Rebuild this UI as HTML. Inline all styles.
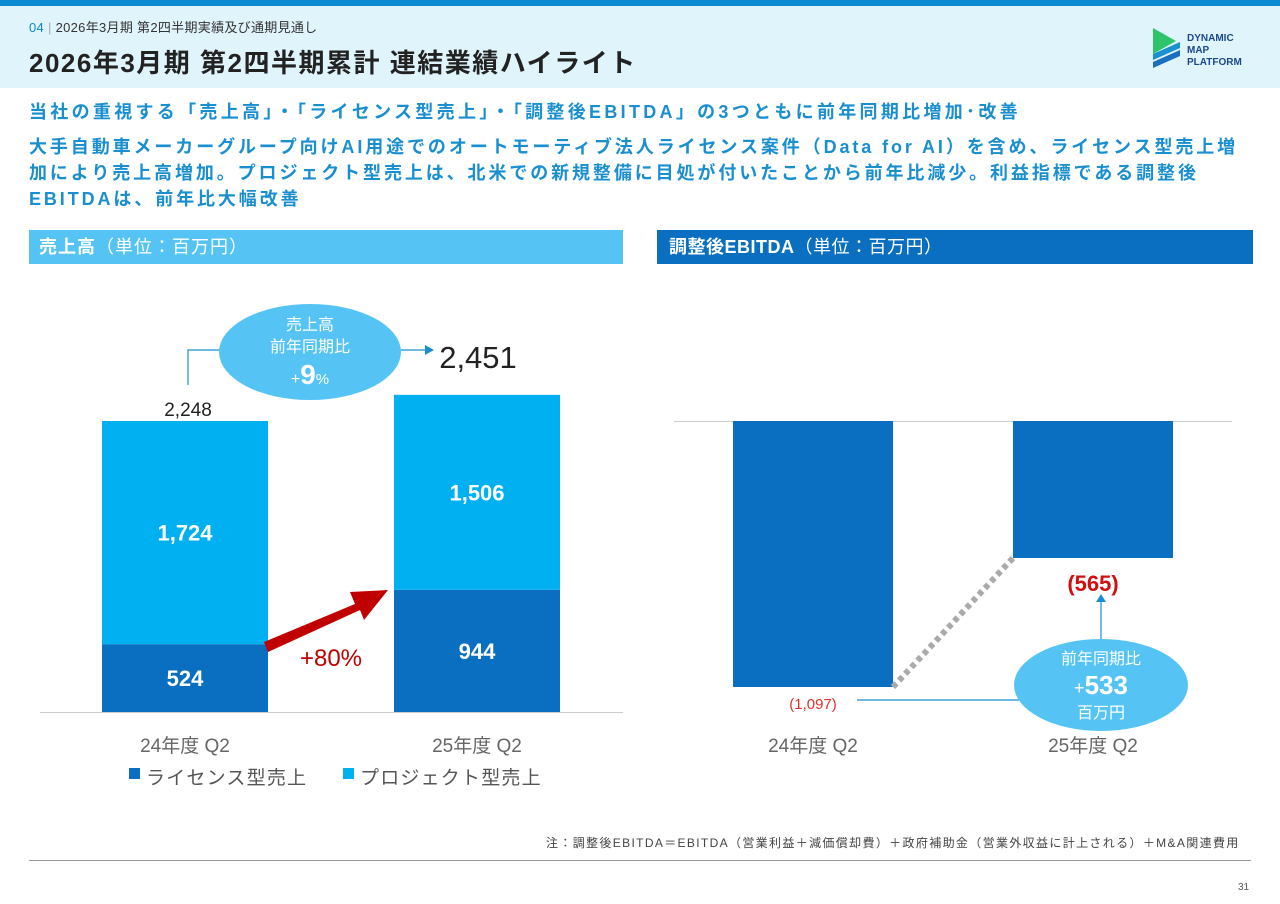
<!DOCTYPE html>
<html><head><meta charset="utf-8">
<style>
body{margin:0;width:1280px;height:904px;background:#fff;font-family:"Liberation Sans","Noto Sans CJK JP",sans-serif;position:relative;overflow:hidden}
.a{position:absolute;white-space:nowrap}
</style></head><body>
<div class="a" style="left:0;top:0;width:1280px;height:6px;background:#0a8ad0"></div>
<div class="a" style="left:0;top:6px;width:1280px;height:82px;background:#e0f4fc"></div>
<div class="a" style="left:29px;top:17px;font-size:13px;color:#333;letter-spacing:0.3px"><span style="color:#0a8ad0">04</span> <span style="color:#aaa">|</span> 2026年3月期 第2四半期実績及び通期見通し</div>
<div class="a" style="left:29px;top:43px;font-size:26px;font-weight:bold;color:#222;letter-spacing:1.5px">2026年3月期 第2四半期累計 連結業績ハイライト</div>
<svg class="a" style="left:1150px;top:28px" width="100" height="44"><polygon points="3,0 3,26 26,13" fill="#2fc46a"/><polygon points="3,26 30,14 30,20 3,32" fill="#1a90d0"/><polygon points="3,34 30,22 30,28 3,40" fill="#1a6fc0"/><text x="37" y="13" font-size="10" font-weight="bold" fill="#1a4a8a">DYNAMIC</text><text x="37" y="25" font-size="10" font-weight="bold" fill="#1a4a8a">MAP</text><text x="37" y="37" font-size="10" font-weight="bold" fill="#1a4a8a">PLATFORM</text></svg>
<div class="a" style="left:29px;top:98px;font-size:18px;font-weight:bold;color:#1a8fd0;letter-spacing:3.3px">当社の重視する「売上高」・「ライセンス型売上」・「調整後EBITDA」の3つともに前年同期比増加･改善</div>
<div class="a" style="left:29px;top:134px;font-size:18px;line-height:26px;font-weight:bold;color:#1a8fd0;letter-spacing:2.9px">大手自動車メーカーグループ向けAI用途でのオートモーティブ法人ライセンス案件（Data for AI）を含め、ライセンス型売上増<br>加により売上高増加。プロジェクト型売上は、北米での新規整備に目処が付いたことから前年比減少。利益指標である調整後<br>EBITDAは、前年比大幅改善</div>
<div class="a" style="left:29px;top:230px;width:594px;height:34px;background:#55c4f5;color:#fff;font-size:18px;line-height:34px;padding-left:10px;box-sizing:border-box;letter-spacing:1px"><b>売上高</b>（単位：百万円）</div>
<div class="a" style="left:657px;top:230px;width:596px;height:34px;background:#0a6fc0;color:#fff;font-size:18px;line-height:34px;padding-left:12px;box-sizing:border-box;letter-spacing:0.5px"><b>調整後EBITDA</b>（単位：百万円）</div>
<svg id="c" class="a" style="left:0;top:0" width="1280" height="904"></svg>
<div class="a" style="left:546px;top:834px;font-size:12px;color:#444;letter-spacing:1.35px">注：調整後EBITDA＝EBITDA（営業利益＋減価償却費）＋政府補助金（営業外収益に計上される）＋M&amp;A関連費用</div>
<div class="a" style="left:29px;top:860px;width:1222px;height:1px;background:#999"></div>
<div class="a" style="left:1238px;top:882px;font-size:10px;color:#555">31</div>
<script>
const categories=["24年度 Q2","25年度 Q2"];
const licenseRev=[524,944];
const projectRev=[1724,1506];
const totals=[2248,2451];
const ebitda=[-1097,-565];
const ebitdaLabels=["(1,097)","(565)"];
const svg=document.getElementById('c');const NS='http://www.w3.org/2000/svg';
function el(t,a,txt){const e=document.createElementNS(NS,t);for(const k in a)e.setAttribute(k,a[k]);if(txt!=null)e.textContent=txt;svg.appendChild(e);return e;}
const base=712,ky=291/2248,lx=[102,394],bw=166;
const yL=v=>base-v*ky;
el('line',{x1:40,x2:623,y1:712.5,y2:712.5,stroke:'#ccc'});
for(let i=0;i<2;i++){
 let b=el('rect',{x:lx[i],y:yL(licenseRev[i]),width:bw,height:licenseRev[i]*ky,fill:'#0a6fc0'});
 
 let p=el('rect',{x:lx[i],y:yL(licenseRev[i]+projectRev[i]),width:bw,height:projectRev[i]*ky,fill:'#00b0f0'});
 
 el('text',{x:lx[i]+bw/2,y:(yL(licenseRev[i])+base)/2+8,'text-anchor':'middle','font-size':22,'font-weight':'bold',fill:'#fff'},licenseRev[i].toLocaleString());
 el('text',{x:lx[i]+bw/2,y:(yL(licenseRev[i])+yL(licenseRev[i]+projectRev[i]))/2+8,'text-anchor':'middle','font-size':22,'font-weight':'bold',fill:'#fff'},projectRev[i].toLocaleString());
 el('text',{x:lx[i]+bw/2,y:752,'text-anchor':'middle','font-size':19,fill:'#666'},categories[i]);
}
el('text',{x:188,y:416,'text-anchor':'middle','font-size':19,fill:'#222'},totals[0].toLocaleString());
el('text',{x:478,y:368,'text-anchor':'middle','font-size':31,fill:'#222'},totals[1].toLocaleString());
el('polyline',{points:'188,385 188,350 225,350',fill:'none',stroke:'#1a8fd0','stroke-width':1.2});
el('line',{x1:395,x2:425,y1:350,y2:350,stroke:'#1a8fd0','stroke-width':1.2});
el('polygon',{points:'425,345 434,350 425,355',fill:'#1a8fd0'});
el('ellipse',{cx:310,cy:352,rx:91,ry:48,fill:'#55c4f5'});
el('text',{x:310,y:330,'text-anchor':'middle','font-size':16,fill:'#fff'},'売上高');
el('text',{x:310,y:352,'text-anchor':'middle','font-size':16,fill:'#fff'},'前年同期比');
const t=el('text',{x:310,y:384,'text-anchor':'middle','font-size':16,fill:'#fff'},'+');
const ts=document.createElementNS(NS,'tspan');ts.setAttribute('font-size',28);ts.setAttribute('font-weight','bold');ts.textContent='9';t.appendChild(ts);
const ts2=document.createElementNS(NS,'tspan');ts2.setAttribute('font-size',15);ts2.textContent='%';t.appendChild(ts2);
el('polygon',{points:'264,642 355,604 350,592 388,590 364,620 360,610 268,652',fill:'#c00000'});
el('text',{x:331,y:666,'text-anchor':'middle','font-size':24,fill:'#c00000'},'+80%');
el('rect',{x:129,y:768,width:11,height:11,fill:'#0a6fc0'});
el('text',{x:146,y:784,'font-size':19,fill:'#555','letter-spacing':1.2},'ライセンス型売上');
el('rect',{x:343,y:768,width:11,height:11,fill:'#00b0f0'});
el('text',{x:360,y:784,'font-size':19,fill:'#555','letter-spacing':1.2},'プロジェクト型売上');
const z=421,ke=266/1097,rx=[733,1013],rw=160;
const yR=v=>z-v*ke;
el('line',{x1:674,x2:1232,y1:421.5,y2:421.5,stroke:'#ccc'});
for(let i=0;i<2;i++){
 let b=el('rect',{x:rx[i],y:z,width:rw,height:yR(ebitda[i])-z,fill:'#0a6fc0'});
 
 el('text',{x:rx[i]+rw/2,y:752,'text-anchor':'middle','font-size':19,fill:'#666'},categories[i]);
}
el('line',{x1:rx[0]+rw,y1:yR(ebitda[0]),x2:rx[1],y2:yR(ebitda[1]),stroke:'#aaa','stroke-width':6,'stroke-dasharray':'5 4'});
el('text',{x:813,y:709,'text-anchor':'middle','font-size':15,fill:'#e03030'},ebitdaLabels[0]);
el('text',{x:1093,y:591,'text-anchor':'middle','font-size':22,'font-weight':'bold',fill:'#d01010'},ebitdaLabels[1]);
el('line',{x1:857,x2:1020,y1:700,y2:700,stroke:'#1a8fd0','stroke-width':1.2});
el('line',{x1:1101,x2:1101,y1:640,y2:600,stroke:'#1a8fd0','stroke-width':1.2});
el('polygon',{points:'1096,602 1101,594 1106,602',fill:'#1a8fd0'});
el('ellipse',{cx:1101,cy:685,rx:87,ry:46,fill:'#55c4f5'});
el('text',{x:1101,y:664,'text-anchor':'middle','font-size':16,fill:'#fff'},'前年同期比');
const u=el('text',{x:1101,y:694,'text-anchor':'middle','font-size':18,fill:'#fff'},'+');
const us=document.createElementNS(NS,'tspan');us.setAttribute('font-size',26);us.setAttribute('font-weight','bold');us.textContent='533';u.appendChild(us);
el('text',{x:1101,y:718,'text-anchor':'middle','font-size':16,fill:'#fff'},'百万円');
</script>
</body></html>
